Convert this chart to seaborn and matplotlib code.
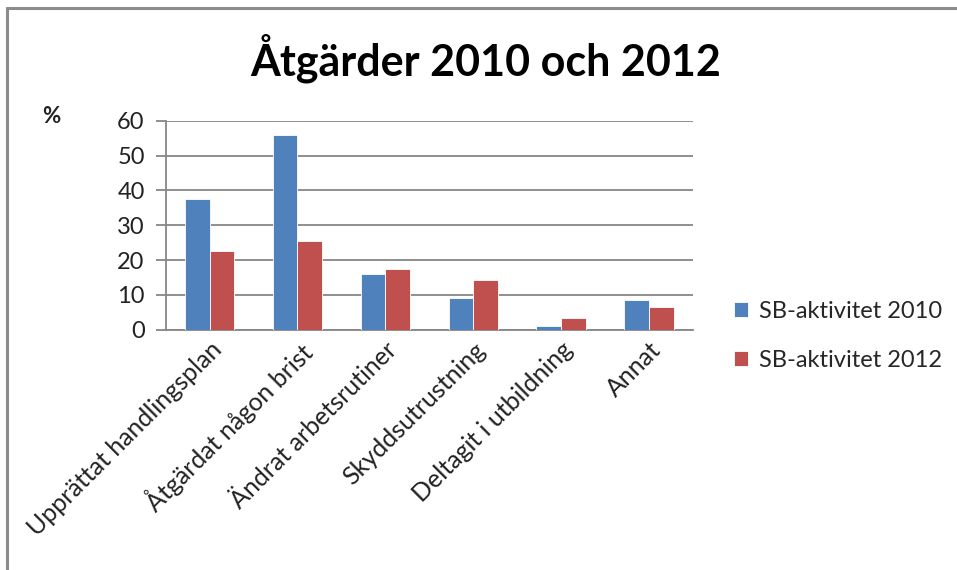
import matplotlib.pyplot as plt
import matplotlib.lines as mlines
import pandas as pd
import seaborn as sns

categories = ['Upprättat handlingsplan', 'Åtgärdat någon brist', 'Ändrat arbetsrutiner',
              'Skyddsutrustning', 'Deltagit i utbildning', 'Annat']
sb_2010 = [37.4, 55.9, 16.0, 9.0, 1.2, 8.6]
sb_2012 = [22.6, 25.5, 17.4, 14.4, 3.4, 6.4]
series_names = ['SB-aktivitet 2010', 'SB-aktivitet 2012']
yticks = [0, 10, 20, 30, 40, 50, 60]

df = pd.DataFrame({
    'Åtgärd': categories * 2,
    'Procent': sb_2010 + sb_2012,
    'Serie': [series_names[0]] * len(categories) + [series_names[1]] * len(categories),
})

sns.set_style('white')
plt.rcParams['font.family'] = ['Lato', 'DejaVu Sans']

grid_col = '#878787'
fig = plt.figure(figsize=(9.57, 5.70), dpi=100)
ax = fig.add_axes([0.173, 0.4216, 0.551, 0.3666])

sns.barplot(data=df, x='Åtgärd', y='Procent', hue='Serie', ax=ax,
            palette=['#4F81BD', '#C0504D'], saturation=1, width=0.56, gap=0,
            edgecolor='white', linewidth=0.6, zorder=3)

ax.set_ylim(0, 60)
ax.set_yticks(yticks)
ax.set_xlim(-0.5, len(categories) - 0.5)
ax.yaxis.grid(True, color=grid_col, linewidth=1.3, zorder=0)
ax.set_axisbelow(True)
for side in ['top', 'right']:
    ax.spines[side].set_visible(False)
ax.spines['left'].set_color(grid_col)
ax.spines['bottom'].set_color(grid_col)
ax.spines['left'].set_linewidth(1.3)
ax.spines['bottom'].set_linewidth(1.3)
ax.tick_params(axis='y', length=7, color=grid_col, width=1.3, labelsize=17,
               labelcolor='#222222', pad=8, left=True)
ax.tick_params(axis='x', length=0, labelsize=18, labelcolor='#222222', pad=6)
plt.setp(ax.get_xticklabels(), rotation=45, ha='right', rotation_mode='anchor')
ax.set_xlabel('')
ax.set_ylabel('')

ax.legend(loc='center left', bbox_to_anchor=(1.06, -0.03), frameon=False,
          fontsize=17, handlelength=0.6, handleheight=0.6, handletextpad=0.45,
          labelspacing=1.2, borderaxespad=0)

fig.text(0.507, 0.898, 'Åtgärder 2010 och 2012', ha='center', va='center',
         fontsize=31, fontweight='bold', color='black')
fig.text(0.054, 0.795, '%', ha='center', va='center', fontsize=16,
         fontweight='bold', color='#222222')

# frame of the chart area (top and left edges visible)
fig.add_artist(mlines.Line2D([0.0075, 1.0], [0.986, 0.986], color='#8c8c8c', linewidth=2.2))
fig.add_artist(mlines.Line2D([0.0075, 0.0075], [0.0, 0.986], color='#8c8c8c', linewidth=2.2))

fig.savefig('out.png', dpi=100)
